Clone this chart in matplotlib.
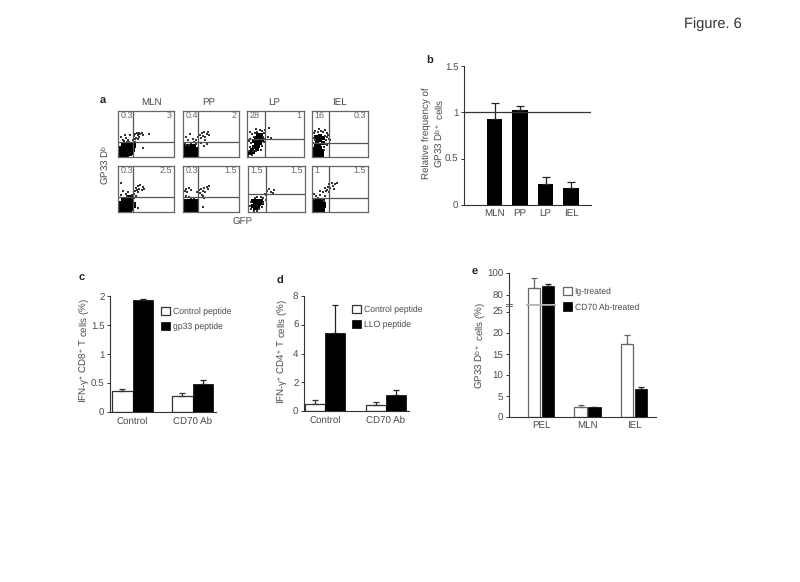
import matplotlib
matplotlib.use('Agg')
import matplotlib.pyplot as plt
from matplotlib.lines import Line2D

W, H = 800, 582
GREY = '#4a4a4a'
plt.rcParams['font.family'] = ['Liberation Sans', 'DejaVu Sans']
plt.rcParams['mathtext.default'] = 'regular'
plt.rcParams['font.size'] = 7
plt.rcParams['text.color'] = GREY
plt.rcParams['text.hinting'] = 'none'

# a: flow plots, dots in percent of the box (x, y from bottom left)
tissues = ['MLN', 'PP', 'LP', 'IEL']
upper_left = [['0.3', '0.4', '28', '16'], ['0.3', '0.3', '1.5', '1']]
upper_right = [['3', '2', '1', '0.3'], ['2.5', '1.5', '1.5', '1.5']]

mln1_dense = [(4, 4), (9, 5), (14, 6), (19, 8), (24, 10), (4, 10), (9, 12), (14, 13), (20, 14), (25, 17), (5, 17), (11, 19), (17, 20), (22, 22), (27, 26), (10, 25), (16, 27)]
mln1_sparse = [(29, 45), (31, 50), (33, 42), (35, 47), (37, 52), (38, 44), (40, 49), (42, 53), (44, 48), (34, 53), (30, 40), (36, 40), (56, 51), (45, 20), (5, 44), (9, 38), (12, 48), (15, 42), (18, 36), (21, 47), (10, 35), (20, 32), (26, 36), (30, 32), (16, 33)]
pp1_dense = [(3, 3), (8, 3), (13, 3), (18, 3), (22, 4), (3, 9), (8, 9), (13, 9), (18, 9), (22, 10), (4, 15), (9, 15), (14, 15), (19, 15), (23, 16), (6, 21), (12, 21), (18, 21)]
pp1_sparse = [(3, 30), (6, 44), (9, 36), (12, 50), (14, 30), (17, 40), (20, 33), (23, 28), (5, 26), (10, 27), (27, 44), (30, 48), (32, 41), (34, 52), (36, 46), (38, 55), (40, 43), (42, 50), (44, 54), (46, 47), (39, 38), (33, 30), (38, 24), (42, 28), (24, 36)]
lp1_dense = [(6, 8), (8, 16), (13, 22), (16, 28), (19, 36), (22, 42), (24, 48), (16, 42), (26, 36), (20, 24), (12, 34), (10, 10), (18, 18), (23, 30), (15, 35), (20, 48)]
lp1_sparse = [(2, 3), (3, 12), (5, 22), (7, 30), (9, 4), (10, 12), (12, 44), (14, 52), (9, 50), (18, 55), (22, 58), (26, 56), (30, 52), (28, 44), (30, 32), (27, 24), (24, 16), (16, 12), (5, 40), (32, 40), (36, 44), (38, 64), (42, 42), (16, 60), (32, 58), (6, 54), (4, 34)]
iel1_dense = [(3, 4), (8, 4), (13, 4), (17, 5), (4, 11), (9, 11), (14, 11), (18, 12), (5, 18), (10, 18), (15, 19), (7, 25), (13, 26), (9, 34), (15, 36), (19, 30), (8, 44), (14, 46), (20, 42)]
iel1_sparse = [(2, 30), (3, 42), (3, 52), (6, 56), (10, 54), (12, 60), (16, 56), (20, 54), (23, 58), (26, 52), (24, 46), (27, 44), (30, 40), (32, 36), (25, 36), (23, 28), (26, 26), (21, 22), (22, 16), (5, 36), (29, 48)]

mln2_dense = [(4, 4), (9, 5), (14, 6), (19, 7), (24, 8), (4, 10), (9, 12), (14, 13), (20, 13), (26, 15), (5, 17), (11, 19), (17, 20), (23, 21), (16, 26), (22, 30), (10, 25)]
mln2_sparse = [(30, 46), (32, 52), (34, 48), (36, 56), (38, 50), (40, 58), (42, 48), (44, 54), (46, 51), (36, 44), (28, 40), (25, 36), (6, 62), (9, 46), (14, 40), (18, 44), (6, 38), (28, 30), (32, 34), (16, 34), (35, 8)]
pp2_dense = [(3, 3), (8, 3), (13, 3), (18, 3), (22, 4), (3, 9), (8, 9), (13, 9), (18, 9), (22, 9), (3, 15), (8, 15), (13, 15), (18, 15), (23, 15), (4, 21), (10, 21), (16, 21), (21, 21)]
pp2_sparse = [(3, 46), (5, 50), (8, 44), (11, 52), (14, 47), (6, 34), (10, 32), (14, 30), (20, 30), (25, 44), (28, 47), (30, 42), (32, 50), (34, 38), (36, 46), (38, 52), (36, 34), (40, 44), (42, 55), (44, 50), (47, 56), (36, 10), (38, 30)]
lp2_dense = [(8, 12), (12, 8), (16, 12), (20, 18), (12, 18), (16, 23), (22, 25), (9, 24), (14, 15), (18, 8), (24, 20)]
lp2_sparse = [(4, 14), (5, 22), (6, 6), (10, 2), (15, 3), (20, 6), (25, 10), (26, 20), (27, 30), (22, 32), (16, 32), (12, 30), (29, 40), (32, 36), (34, 46), (37, 50), (40, 44), (44, 42), (46, 48), (32, 26)]
iel2_dense = [(3, 3), (8, 3), (13, 3), (18, 3), (3, 9), (8, 9), (13, 9), (18, 9), (4, 15), (9, 15), (14, 15), (19, 15), (6, 21), (12, 21), (17, 21)]
iel2_sparse = [(3, 28), (7, 34), (11, 30), (15, 36), (18, 28), (21, 24), (23, 34), (4, 40), (20, 44), (25, 46), (24, 52), (27, 48), (29, 55), (31, 60), (33, 52), (35, 64), (37, 56), (39, 50), (41, 60), (45, 62), (30, 44), (14, 46)]

dense_sets = [[mln1_dense, pp1_dense, lp1_dense, iel1_dense], [mln2_dense, pp2_dense, lp2_dense, iel2_dense]]
sparse_sets = [[mln1_sparse, pp1_sparse, lp1_sparse, iel1_sparse], [mln2_sparse, pp2_sparse, lp2_sparse, iel2_sparse]]
dense_size = [[14, 14, 5, 12], [14, 14, 7, 14]]
gate_x = [[27, 27, 32, 30], [27, 27, 32, 30]]
gate_y = [[33, 33, 39, 30], [33, 33, 39, 30]]

# b
b_labels = ['MLN', 'PP', 'LP', 'IEL']
b_values = [0.93, 1.03, 0.23, 0.18]
b_err = [0.17, 0.04, 0.07, 0.07]

# c
cd_labels = ['Control', 'CD70 Ab']
c_white = [0.36, 0.28]
c_white_err = [0.04, 0.04]
c_black = [1.93, 0.48]
c_black_err = [0.02, 0.08]

# d
d_white = [0.5, 0.4]
d_white_err = [0.25, 0.2]
d_black = [5.4, 1.1]
d_black_err = [1.95, 0.35]

# e
e_labels = ['PEL', 'MLN', 'IEL']
e_white = [86, 2.3, 17.4]
e_white_err = [9, 0.6, 2.0]
e_black = [88, 2.3, 6.6]
e_black_err = [2, 0.1, 0.6]

fig = plt.figure(figsize=(W / 100, H / 100), dpi=100)


def box(x0, y0, x1, y1):
    return fig.add_axes([x0 / W, 1 - y1 / H, (x1 - x0) / W, (y1 - y0) / H])


def label(x, y, s, **kw):
    kw.setdefault('ha', 'center')
    kw.setdefault('va', 'center')
    fig.text(x / W, 1 - y / H, s, **kw)


def bar_axes(ax, xlim, ylim, yticks, ylabels=None):
    ax.set_xlim(*xlim)
    ax.set_ylim(*ylim)
    ax.set_yticks(yticks)
    ax.set_yticklabels(ylabels if ylabels else [str(t) for t in yticks])
    ax.spines[['top', 'right']].set_visible(False)
    ax.spines[['left', 'bottom']].set_color('#333333')
    ax.spines[['left', 'bottom']].set_linewidth(0.8)
    ax.tick_params(axis='y', length=2.5, width=0.7, pad=1.5, color='#333333', labelcolor=GREY)
    ax.tick_params(axis='x', length=0, pad=3, labelcolor=GREY)
    ax.patch.set_alpha(0)


def grouped(ax, x, white, white_err, black, black_err, width, off, names, edge='#333333'):
    xs = list(range(len(x)))
    ax.bar([i - off for i in xs], white, width, color='white', edgecolor=edge, linewidth=0.9, label=names[0],
           yerr=[[0] * len(x), white_err], error_kw=dict(ecolor=edge, capsize=2.5, elinewidth=0.9, capthick=0.9))
    ax.bar([i + off for i in xs], black, width, color='black', edgecolor='black', linewidth=0.5, label=names[1],
           yerr=[[0] * len(x), black_err], error_kw=dict(ecolor='#222222', capsize=2.5, elinewidth=0.9, capthick=0.9))
    ax.set_xticks(xs)
    ax.set_xticklabels(x)


def key(ax, x, y, spacing=0.7):
    ax.legend(loc='upper left', bbox_to_anchor=(x / W, 1 - y / H), bbox_transform=fig.transFigure, frameon=False,
              handlelength=1.0, handleheight=1.1, handletextpad=0.35, labelspacing=spacing, borderpad=0, borderaxespad=0,
              fontsize=6.2)


# a
rows = [(111, 157), (166, 212)]
cols = [[(118, 174), (183, 239), (247, 304), (312, 368)], [(118, 174), (183, 239), (248, 305), (312, 368)]]
for r in range(2):
    for c in range(4):
        ax = box(cols[r][c][0], rows[r][0], cols[r][c][1], rows[r][1])
        ax.set_xlim(0, 100)
        ax.set_ylim(0, 100)
        ax.set_xticks([])
        ax.set_yticks([])
        for s in ax.spines.values():
            s.set_color('#666666')
            s.set_linewidth(0.9)
        ax.scatter(*zip(*dense_sets[r][c]), s=dense_size[r][c], marker='s', color='black', linewidths=0)
        ax.scatter(*zip(*sparse_sets[r][c]), s=1.5, marker='s', color='#333333', linewidths=0)
        ax.axvline(gate_x[r][c], color='#555555', lw=0.9)
        ax.axhline(gate_y[r][c], color='#555555', lw=0.9)
        ax.text(4, 90, upper_left[r][c], ha='left', va='center', fontsize=6.5, color='#666666')
        ax.text(96, 90, upper_right[r][c], ha='right', va='center', fontsize=6.5, color='#666666')
for name, x in zip(tissues, [151, 209, 274, 339]):
    label(x, 102, name, fontsize=7)
label(105, 165, 'GP33 D$^{b}$', rotation=90, fontsize=7)
label(243, 222, 'GFP', fontsize=7)

# b
ax = box(464, 66, 591, 205)
ax.bar(range(4), b_values, 0.59, color='black', yerr=[[0] * 4, b_err],
       error_kw=dict(ecolor='#222222', capsize=3, elinewidth=0.9, capthick=0.9))
bar_axes(ax, (-1.196, 3.784), (0, 1.5), [0, 0.5, 1, 1.5], ['0', '0.5', '1', '1.5'])
ax.axhline(1, color='#333333', lw=0.9)
ax.set_xticks(range(4))
ax.set_xticklabels(b_labels)
label(433, 133, 'Relative frequency of\nGP33 D$^{b+}$ cells', rotation=90, fontsize=7, linespacing=1.1)

# c
ax = box(110, 296, 216, 412)
grouped(ax, cd_labels, c_white, c_white_err, c_black, c_black_err, 0.34, 0.17, ['Control peptide', 'gp33 peptide'])
bar_axes(ax, (-0.375, 1.39), (0, 2), [0, 0.5, 1, 1.5, 2], ['0', '0.5', '1', '1.5', '2'])
key(ax, 161, 307)
label(84, 351, 'IFN-γ$^{+}$ CD8$^{+}$ T cells (%)', rotation=90, fontsize=7)

# d
ax = box(304, 296, 409, 411)
grouped(ax, cd_labels, d_white, d_white_err, d_black, d_black_err, 0.33, 0.165, ['Control peptide', 'LLO peptide'])
bar_axes(ax, (-0.344, 1.377), (0, 8), [0, 2, 4, 6, 8])
key(ax, 352, 305)
label(282, 352, 'IFN-γ$^{+}$ CD4$^{+}$ T cells (%)', rotation=90, fontsize=7)

# e: broken axis, same bars in both parts
e_xlim = (-0.688, 2.473)
low = box(509, 305, 656, 417)
grouped(low, e_labels, e_white, e_white_err, e_black, e_black_err, 0.26, 0.15, ['Ig-treated', 'CD70 Ab-treated'], edge='#666666')
bar_axes(low, e_xlim, (0, 26.6), [0, 5, 10, 15, 20, 25])
high = box(509, 273, 656, 304)
grouped(high, e_labels, e_white, e_white_err, e_black, e_black_err, 0.26, 0.15, ['Ig-treated', 'CD70 Ab-treated'], edge='#666666')
bar_axes(high, e_xlim, (71.8, 100), [80, 100])
high.spines['bottom'].set_visible(False)
high.set_xticks([])
key(high, 563, 287, spacing=0.75)
label(480, 346, 'GP33 D$^{b+}$ cells (%)', rotation=90, fontsize=7)
# break marks across the axis and the PEL bars
for y in [304.5]:
    fig.add_artist(Line2D([527 / W, 555 / W], [1 - y / H] * 2, color='#aaaaaa', lw=1.2))
    fig.add_artist(Line2D([506 / W, 512 / W], [1 - (y - 1) / H, 1 - (y - 1) / H], color='#555555', lw=0.6))
    fig.add_artist(Line2D([506 / W, 512 / W], [1 - (y + 1) / H, 1 - (y + 1) / H], color='#555555', lw=0.6))

for s, x, y in [('a', 103, 101), ('b', 430, 61), ('c', 82, 278), ('d', 280, 281), ('e', 475, 272)]:
    label(x, y, s, fontsize=8, fontweight='bold', color='#222222')
label(713, 24, 'Figure. 6', fontsize=10.5, color='#333333')

fig.savefig('out.png', dpi=100)
